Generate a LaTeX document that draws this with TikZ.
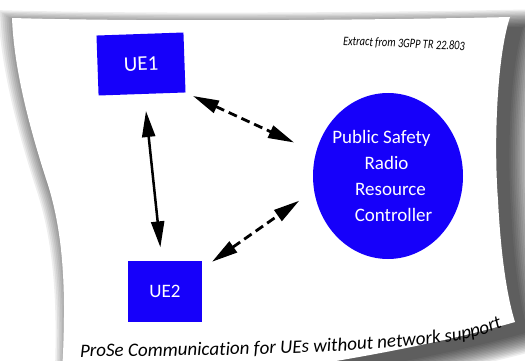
\documentclass[tikz,border=0pt]{standalone}
\usepackage{fontspec}
\setmainfont{Carlito}
\usetikzlibrary{arrows.meta,shapes.geometric,decorations.text}
\definecolor{ueblue}{RGB}{22,0,250}

\tikzset{
  uebox/.style={fill=ueblue, text=white, inner sep=0pt},
  hub/.style={ellipse, fill=ueblue, text=white, inner sep=0pt, align=center,
    font=\fontsize{19}{26}\selectfont},
  link/.style={line width=2.5pt,
    {Triangle[length=26pt,width=13pt]}-{Triangle[length=26pt,width=13pt]}},
  dlink/.style={link, line width=2.8pt, dash pattern=on 9pt off 5pt},
  shadowlayer/.style={fill=black, fill opacity=0.065},
}

% outline of the curled sheet
\def\paperpath{(12,18) .. controls (150,22) and (380,20) .. (510,17)
  .. controls (496,60) and (494,150) .. (498,200)
  .. controls (501,260) and (508,300) .. (515,322)
  .. controls (460,338) and (390,352) .. (330,362)
  -- (60,400)
  .. controls (69,290) and (62,230) .. (48,185)
  .. controls (30,130) and (14,70) .. (12,18) -- cycle}

\begin{document}
\begin{tikzpicture}[x=1pt,y=-1pt]
\useasboundingbox (0,0) rectangle (525,361);
\fill[white] (0,0) rectangle (525,361);

% soft drop shadow under the sheet
\foreach \s in {1.000,1.008,...,1.105}{
  \fill[shadowlayer, shift={(13,10)}, scale around={\s:(270,190)}] \paperpath;
}
% the sheet
\fill[white] \paperpath;

% devices and controller
\node[uebox, minimum width=87pt, minimum height=60pt, rotate=2] (ue1) at (141,64)
  {\fontsize{21}{21}\selectfont UE1};
\node[uebox, minimum width=74pt, minimum height=61pt] (ue2) at (165,291)
  {\fontsize{19}{19}\selectfont UE2};
\node[hub, minimum width=150pt, minimum height=166pt] (prrc) at (388,176)
  {\hspace*{-13pt}Public Safety\\ \hspace*{-3pt}Radio\\ \hspace*{5pt}Resource\\ \hspace*{11pt}Controller};

% links
\draw[link, shorten <=17pt, shorten >=13pt] (ue1) -- (ue2);
\draw[dlink, shorten <=8pt, shorten >=24pt] (ue1.south east) -- (prrc.162);
\draw[dlink, shorten <=12pt, shorten >=18pt] (ue2.31) -- (prrc.191);

% source note
\node[font=\itshape\fontsize{13}{13}\selectfont, xscale=0.8, rotate=-2] (src) at (404,44)
  {Extract from 3GPP TR 22.803};

% caption bending with the sheet
\path[decorate, decoration={text along path, text align=left,
  text={|\itshape\fontsize{19}{19}\selectfont|ProSe Communication for UEs without network support}}]
  (80,357) .. controls (240,356) and (400,352) .. (470,338) .. controls (490,333) and (505,327) .. (530,315);
\end{tikzpicture}
\end{document}
